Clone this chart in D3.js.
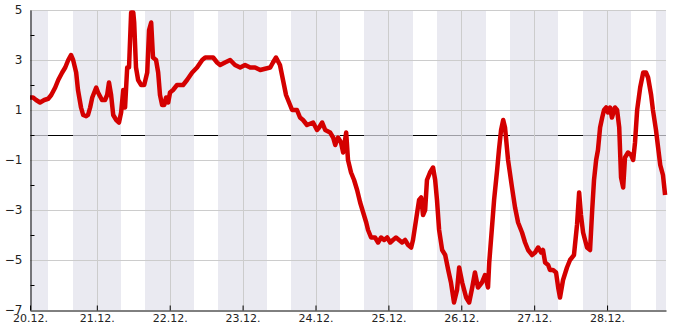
<!DOCTYPE html>
<html>
<head>
<meta charset="utf-8">
<script src="https://cdn.jsdelivr.net/npm/d3@7"></script>
<style>
  body { margin: 0; background: #fff; }
  text { font-family: "DejaVu Sans", sans-serif; fill: #222; }
</style>
</head>
<body>
<div id="chart-area"></div>
<script>
// hours since 20.12. 00:00
const hours = [
  2.0, 3.0, 4.0, 5.3, 6.7, 8.0, 9.0, 10.3, 11.3, 12.6, 13.6, 14.6, 15.5, 16.2, 17.2, 17.8, 18.8, 19.5, 20.5, 21.1,
  21.8, 22.5, 23.8, 24.4, 25.7, 26.7, 27.4, 28.0, 28.7, 29.4, 30.4, 31.3, 32.0, 32.7, 33.3, 34.0, 34.6, 35.3, 36.0, 36.3,
  36.9, 37.6, 38.6, 39.6, 40.6, 41.2, 41.9, 42.5, 43.5, 44.2, 44.8, 45.5, 46.2, 46.8, 47.5, 48.1, 49.1, 50.4, 52.4, 53.7,
  55.4, 57.0, 58.7, 59.7, 62.3, 63.6, 64.6, 66.2, 67.9, 69.5, 71.2, 72.8, 74.5, 76.1, 77.8, 79.4, 81.1, 82.0, 83.0, 84.3,
  85.3, 86.3, 87.3, 88.3, 89.9, 90.9, 91.9, 93.2, 95.2, 96.5, 97.2, 98.2, 99.2, 100.8, 101.8, 102.5, 103.4, 104.4, 105.1, 106.1,
  106.7, 107.7, 108.7, 109.7, 110.7, 111.7, 112.7, 113.3, 114.3, 115.6, 116.6, 117.6, 118.6, 119.6, 120.6, 121.5, 122.5, 123.5, 124.5, 125.5,
  126.5, 127.5, 128.1, 129.1, 130.1, 130.8, 131.4, 132.1, 132.7, 133.7, 134.7, 135.4, 136.0, 136.7, 137.7, 138.7, 139.7, 140.6, 141.6, 142.6,
  143.3, 144.3, 145.6, 146.6, 147.6, 148.5, 149.5, 150.8, 151.8, 152.8, 153.2, 154.1, 154.8, 155.8, 156.4, 157.1, 157.8, 158.4, 159.4, 160.7,
  161.7, 162.7, 164.0, 165.0, 166.0, 167.3, 168.3, 169.3, 170.3, 170.9, 171.6, 172.6, 173.2, 174.2, 175.2, 175.9, 176.5, 177.5, 178.8, 179.8,
  181.1, 182.1, 182.8, 183.4, 184.1, 185.4, 186.4, 187.1, 187.7, 188.4, 189.0, 189.7, 190.4, 191.0, 191.7, 192.3, 193.0, 193.6, 194.6, 195.3,
  196.0, 196.6, 197.3, 197.9, 198.9, 199.9, 200.6, 201.2, 201.9, 202.9, 203.9, 204.8, 205.5, 206.5, 207.1, 208.1, 208.8, 209.5, 210.4, 211.1
];
const temps = [
  1.5, 1.5, 1.4, 1.3, 1.4, 1.45, 1.6, 1.9, 2.2, 2.5, 2.7, 3.0, 3.2, 3.0, 2.5, 1.8, 1.1, 0.8, 0.75, 0.8,
  1.1, 1.5, 1.9, 1.7, 1.4, 1.4, 1.6, 2.1, 1.6, 0.8, 0.6, 0.5, 0.9, 1.8, 1.1, 2.7, 2.7, 4.9, 4.9, 4.5,
  2.7, 2.2, 2.0, 2.0, 2.5, 4.2, 4.5, 3.1, 3.0, 2.5, 1.6, 1.2, 1.2, 1.5, 1.3, 1.7, 1.8, 2.0, 2.0, 2.2,
  2.5, 2.7, 3.0, 3.1, 3.1, 2.9, 2.8, 2.9, 3.0, 2.8, 2.7, 2.8, 2.7, 2.7, 2.6, 2.65, 2.7, 2.9, 3.1, 2.8,
  2.2, 1.6, 1.3, 1.0, 1.0, 0.7, 0.6, 0.4, 0.5, 0.2, 0.3, 0.5, 0.2, 0.1, -0.1, -0.4, -0.1, -0.3, -0.7, 0.1,
  -1.0, -1.5, -1.8, -2.2, -2.7, -3.1, -3.5, -3.8, -4.1, -4.1, -4.3, -4.1, -4.2, -4.1, -4.3, -4.2, -4.1, -4.2, -4.3, -4.2,
  -4.4, -4.5, -4.2, -3.4, -2.6, -2.5, -3.2, -3.0, -1.8, -1.5, -1.3, -1.8, -2.6, -3.8, -4.6, -4.8, -5.4, -5.9, -6.7, -6.2,
  -5.3, -5.9, -6.5, -6.7, -6.1, -5.5, -6.1, -5.9, -5.6, -6.1, -5.1, -3.7, -2.6, -1.4, -0.6, 0.2, 0.6, 0.3, -1.0, -2.1,
  -2.9, -3.5, -3.9, -4.3, -4.6, -4.8, -4.7, -4.5, -4.7, -4.6, -5.1, -5.2, -5.4, -5.4, -5.5, -6.1, -6.5, -5.8, -5.3, -5.0,
  -4.8, -3.6, -2.3, -3.2, -3.9, -4.5, -4.6, -3.0, -1.8, -1.0, -0.6, 0.3, 0.7, 1.0, 1.1, 0.9, 1.1, 0.7, 1.1, 1.0,
  0.3, -1.7, -2.1, -0.9, -0.7, -0.8, -1.0, -0.3, 1.0, 1.9, 2.5, 2.5, 2.3, 1.6, 1.0, 0.2, -0.5, -1.2, -1.6, -2.4
];
const yLabels = [5, 3, 1, -1, -3, -5, -7];
const yMinor = [4, 2, 0, -2, -4, -6];
const startDay = new Date(2023, 11, 20);
const hourRange = [2, 211.4];
const nightHours = [16, 8]; // shaded from 16:00 to 08:00

const margins = { left: 30, top: 10, right: 19, bottom: 20 };
const W = 685, H = 330;
const width = W - margins.left - margins.right;
const height = H - margins.top - margins.bottom;

const toDate = h => new Date(startDay.getTime() + h * 3600e3);

const svg = d3.select('#chart-area')
  .append('svg')
  .attr('width', W)
  .attr('height', H)
  .append('g')
  .attr('transform', `translate(${margins.left}, ${margins.top})`);

const x = d3.scaleTime()
  .domain(hourRange.map(toDate))
  .range([0, width]);
const y = d3.scaleLinear()
  .domain([-7, 5])
  .range([height, 0]);

const [t0, t1] = x.domain();
const midnights = d3.timeDay.range(d3.timeDay.ceil(t0), t1);

// zero line (under the night bands, so it greys out there)
svg.append('line')
  .attr('x1', 0).attr('x2', width)
  .attr('y1', Math.round(y(0)) + 0.5).attr('y2', Math.round(y(0)) + 0.5)
  .attr('stroke', '#000');

// night bands
const nights = [d3.timeDay.floor(t0), ...midnights].map(d => {
  const a = d3.timeHour.offset(d, -(24 - nightHours[0]));
  const b = d3.timeHour.offset(d, nightHours[1]);
  return [a < t0 ? t0 : a, b > t1 ? t1 : b];
}).concat([[d3.timeHour.offset(d3.timeDay.floor(t1), nightHours[0]), t1]])
  .filter(n => n[1] > n[0]);

svg.selectAll('rect.night')
  .data(nights)
  .enter()
  .append('rect')
  .attr('class', 'night')
  .attr('x', d => Math.round(x(d[0])))
  .attr('y', 0)
  .attr('width', d => Math.round(x(d[1])) - Math.round(x(d[0])))
  .attr('height', height)
  .attr('fill', 'rgb(225,225,235)')
  .attr('fill-opacity', 0.7);

// grid
svg.selectAll('line.hgrid')
  .data(yLabels.filter(v => v > -7))
  .enter()
  .append('line')
  .attr('class', 'hgrid')
  .attr('x1', 0).attr('x2', width)
  .attr('y1', d => Math.round(y(d)) + 0.5).attr('y2', d => Math.round(y(d)) + 0.5)
  .attr('stroke', '#ccc');
svg.selectAll('line.vgrid')
  .data(midnights)
  .enter()
  .append('line')
  .attr('class', 'vgrid')
  .attr('x1', d => Math.round(x(d)) + 0.5).attr('x2', d => Math.round(x(d)) + 0.5)
  .attr('y1', 0).attr('y2', height)
  .attr('stroke', '#ccc');

// temperature line
const line = d3.line()
  .x((d, i) => x(toDate(hours[i])))
  .y(d => y(d));
svg.append('path')
  .datum(temps)
  .attr('d', line)
  .attr('fill', 'none')
  .attr('stroke', '#d40000')
  .attr('stroke-width', 4.5)
  .attr('stroke-linejoin', 'round');

// y axis
const yAxis = svg.append('g')
  .attr('class', 'y axis')
  .attr('transform', 'translate(0.5, 0)')
  .call(d3.axisLeft(y).tickValues(yLabels).tickSize(0).tickPadding(8));
yAxis.select('.domain').attr('stroke', '#000');
yAxis.selectAll('text').attr('font-size', '12px').attr('fill', '#222');
svg.append('g')
  .attr('transform', 'translate(0.5, 0)')
  .call(d3.axisRight(y).tickValues(yMinor).tickSize(4).tickFormat(''))
  .call(g => g.select('.domain').remove());

// x axis
const xAxis = svg.append('g')
  .attr('class', 'x axis')
  .attr('transform', `translate(0, ${height + 0.5})`)
  .call(d3.axisBottom(x)
    .tickValues([t0, ...midnights])
    .tickFormat(d3.timeFormat('%d.%m.'))
    .tickSizeInner(-5)
    .tickSizeOuter(0)
    .tickPadding(4));
xAxis.select('.domain').attr('stroke', '#000');
xAxis.selectAll('text').attr('font-size', '11px').attr('fill', '#222');
</script>
</body>
</html>
